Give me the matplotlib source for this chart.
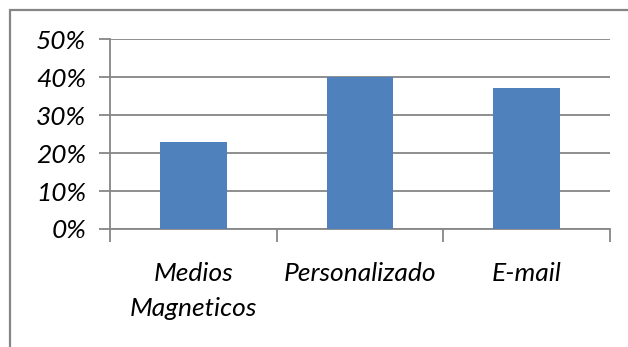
import matplotlib
matplotlib.use("Agg")
import matplotlib.pyplot as plt
from matplotlib.patches import Rectangle
from matplotlib.ticker import PercentFormatter

categories = ["Medios\nMagneticos", "Personalizado", "E-mail"]
values = [0.23, 0.40, 0.37]
yticks = [0.0, 0.1, 0.2, 0.3, 0.4, 0.5]

W, H = 628, 347
fig = plt.figure(figsize=(W / 100, H / 100), dpi=100)
fig.patch.set_facecolor("white")

# chart frame (extends past the right and bottom edges)
fig.patches.append(Rectangle((10 / W, -0.1), 1.2, (H - 9.5) / H + 0.1,
                             transform=fig.transFigure, fill=False,
                             edgecolor="#868686", linewidth=1.6))

ax = fig.add_axes([110 / W, 1 - 229 / H, 500 / W, 190 / H])
grid_c = "#868686"
x = range(len(categories))
ax.bar(x, values, width=0.4, color="#4F81BD", zorder=3)

ax.set_xlim(-0.5, len(categories) - 0.5)
ax.set_ylim(0, 0.5)
ax.set_yticks(yticks)
ax.yaxis.set_major_formatter(PercentFormatter(1.0, decimals=0))
ax.grid(axis="y", color=grid_c, linewidth=1.3, zorder=0)

ax.set_xticks([i - 0.5 for i in range(len(categories) + 1)], minor=False)
ax.set_xticklabels([])
ax.set_xticks(list(x), minor=True)
ax.set_xticklabels(categories, minor=True)
ax.tick_params(axis="x", which="minor", length=0, pad=24)
ax.tick_params(axis="x", which="major", length=9, width=1.3, color=grid_c)
ax.tick_params(axis="y", length=8, width=1.3, color=grid_c, pad=9)

for s in ["top", "right"]:
    ax.spines[s].set_visible(False)
for s in ["left", "bottom"]:
    ax.spines[s].set_color(grid_c)
    ax.spines[s].set_linewidth(1.3)

for lab in ax.get_yticklabels():
    lab.set_fontfamily("Lato")
    lab.set_fontstyle("italic")
    lab.set_fontsize(19)
for lab in ax.get_xticklabels(minor=True):
    lab.set_fontfamily("Lato")
    lab.set_fontstyle("italic")
    lab.set_fontsize(19)
    lab.set_linespacing(1.6)
    lab.set_verticalalignment("top")

fig.savefig("out.png", dpi=100)
